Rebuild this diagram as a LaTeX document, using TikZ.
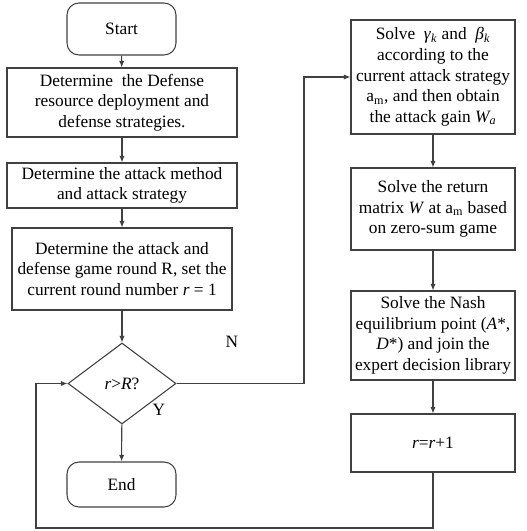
\documentclass[tikz,border=0pt]{standalone}
\usepackage{fontspec}
\setmainfont{Liberation Serif}
\usetikzlibrary{shapes.geometric,arrows.meta}
\begin{document}
\begin{tikzpicture}[x=0.75pt,y=-0.75pt,
  line/.style={draw=black!75, line width=0.8pt},
  arr/.style={line, -{Latex[length=5pt,width=4pt]}},
  box/.style={line, rectangle, align=center, inner sep=1pt, font=\fontsize{13}{15.5}\selectfont},
  term/.style={box, rounded corners=9pt},
  dec/.style={line, diamond, inner sep=0pt, font=\fontsize{13}{15.5}\selectfont}]
\useasboundingbox (0,0) rectangle (526,531);
\node[term, minimum width=81.75pt, minimum height=39pt] (start) at (121.5,29) {Start};
\node[box, minimum width=172.5pt, minimum height=51.75pt] (b1) at (122,102.5) {Determine\ \ the Defense\\resource deployment and\\defense strategies.};
\node[box, minimum width=172.5pt, minimum height=33.75pt] (b2) at (122,185.5) {Determine the attack method\\and attack strategy};
\node[box, minimum width=165pt, minimum height=61.5pt] (b3) at (122,269) {Determine the attack and\\defense game round R, set the\\current round number \textit{r} = 1};
\node[dec, minimum width=81pt, minimum height=60.75pt] (dia) at (122,383.5) {\textit{r}>\textit{R}?};
\node[term, minimum width=81.75pt, minimum height=33.75pt] (end) at (121.5,484.5) {End};
\node[box, minimum width=123pt, minimum height=85.5pt] (r1) at (433,77) {Solve\ \ \textit{γ}\textsubscript{\textit{k}} and\ \ \textit{β}\textsubscript{\textit{k}}\\according to the\\current attack strategy\\a\textsubscript{m}, and then obtain\\the attack gain \textit{W\textsubscript{a}}};
\node[box, minimum width=123pt, minimum height=61.5pt] (r2) at (433,209) {Solve the return\\matrix \textit{W} at a\textsubscript{m} based\\on zero-sum game};
\node[box, minimum width=123pt, minimum height=66.75pt] (r3) at (433,335.5) {Solve the Nash\\equilibrium point (\textit{A}*,\\\textit{D}*) and join the\\expert decision library};
\node[box, minimum width=123pt, minimum height=43.5pt] (r4) at (433,443) {\textit{r}=\textit{r}+1};
\node[font=\fontsize{13}{15}\selectfont] (nlab) at (232,342) {N};
\node[font=\fontsize{13}{15}\selectfont] (ylab) at (159,410) {Y};
\coordinate (nx) at (304,0);
\coordinate (lb) at (36,528);
\draw[arr] (start) -- (b1);
\draw[arr] (b1) -- (b2);
\draw[arr] (b2) -- (b3);
\draw[arr] (b3) -- (dia);
\draw[arr] (dia) -- (end);
\draw[arr] (dia.east) -- (dia.east -| nx) |- (r1.west);
\draw[arr] (r1) -- (r2);
\draw[arr] (r2) -- (r3);
\draw[arr] (r3) -- (r4);
\draw[arr] (r4.south) |- (lb) |- (dia.west);
\end{tikzpicture}
\end{document}
